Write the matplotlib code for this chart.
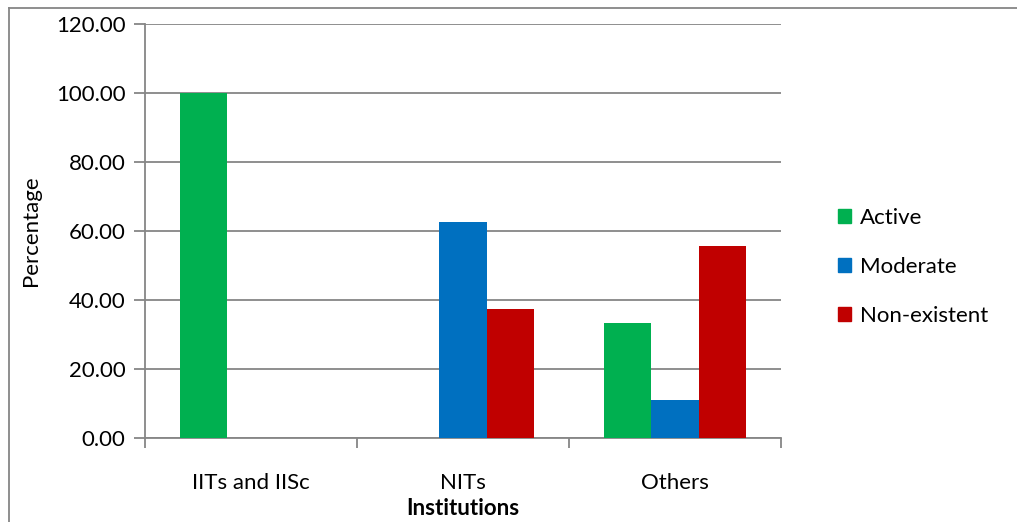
import matplotlib
matplotlib.use("Agg")
import matplotlib.pyplot as plt
from matplotlib.lines import Line2D
from matplotlib.patches import Patch
import numpy as np

categories = ["IITs and IISc", "NITs", "Others"]
series_names = ["Active", "Moderate", "Non-existent"]
active = [100.00, 0.00, 33.33]
moderate = [0.00, 62.50, 11.11]
nonexistent = [0.00, 37.50, 55.56]
colors = ["#00B050", "#0070C0", "#C00000"]
yticks = [0, 20, 40, 60, 80, 100, 120]

plt.rcParams['font.family'] = ['Lato', 'DejaVu Sans']
W, H = 1017, 522
fig = plt.figure(figsize=(W/100, H/100), dpi=100)
ax = fig.add_axes([145/W, 1-438/H, (781-145)/W, (438-24)/H])

x = np.arange(len(categories))
bw = 1/4.5
for i, (vals, c, n) in enumerate(zip([active, moderate, nonexistent], colors, series_names)):
    ax.bar(x + (i-1)*bw, vals, width=bw, color=c, label=n, zorder=3)

FS = 16
ax.set_xlim(-0.5, 2.5)
ax.set_ylim(0, 120)
ax.set_yticks(yticks)
ax.set_yticklabels([f"{v:.2f}" for v in yticks], fontsize=FS)
ax.yaxis.grid(True, color="#868686", linewidth=1.3, zorder=0)
ax.set_xticks([-0.5, 0.5, 1.5, 2.5])
ax.set_xticklabels([])
ax.set_xticks(x, minor=True)
ax.set_xticklabels(categories, minor=True, fontsize=FS)
ax.tick_params(axis='x', which='minor', length=0, pad=25)
ax.tick_params(axis='x', which='major', length=7, color="#868686", width=1.3, direction='out')
ax.tick_params(axis='y', length=8, color="#868686", width=1.3, direction='out', pad=6)
for s in ['top', 'right']:
    ax.spines[s].set_visible(False)
for s in ['left', 'bottom']:
    ax.spines[s].set_color("#868686")
    ax.spines[s].set_linewidth(1.3)

ax.set_ylabel("Percentage", fontsize=FS, labelpad=11)
ax.set_xlabel("Institutions", fontsize=FS, fontweight='bold', labelpad=4)

handles = [Patch(color=c) for c in colors]
fig.legend(handles, series_names, loc='center left', bbox_to_anchor=(818/W, 1-267/H),
           frameon=False, fontsize=FS, handlelength=0.6, handleheight=0.6,
           labelspacing=1.3, handletextpad=0.4)

fig.add_artist(Line2D([9/W, 9/W], [0, 1-8/H], color="#868686", linewidth=1.3, transform=fig.transFigure))
fig.add_artist(Line2D([9/W, 1], [1-8/H, 1-8/H], color="#868686", linewidth=1.3, transform=fig.transFigure))

fig.savefig("out.png", dpi=100)
